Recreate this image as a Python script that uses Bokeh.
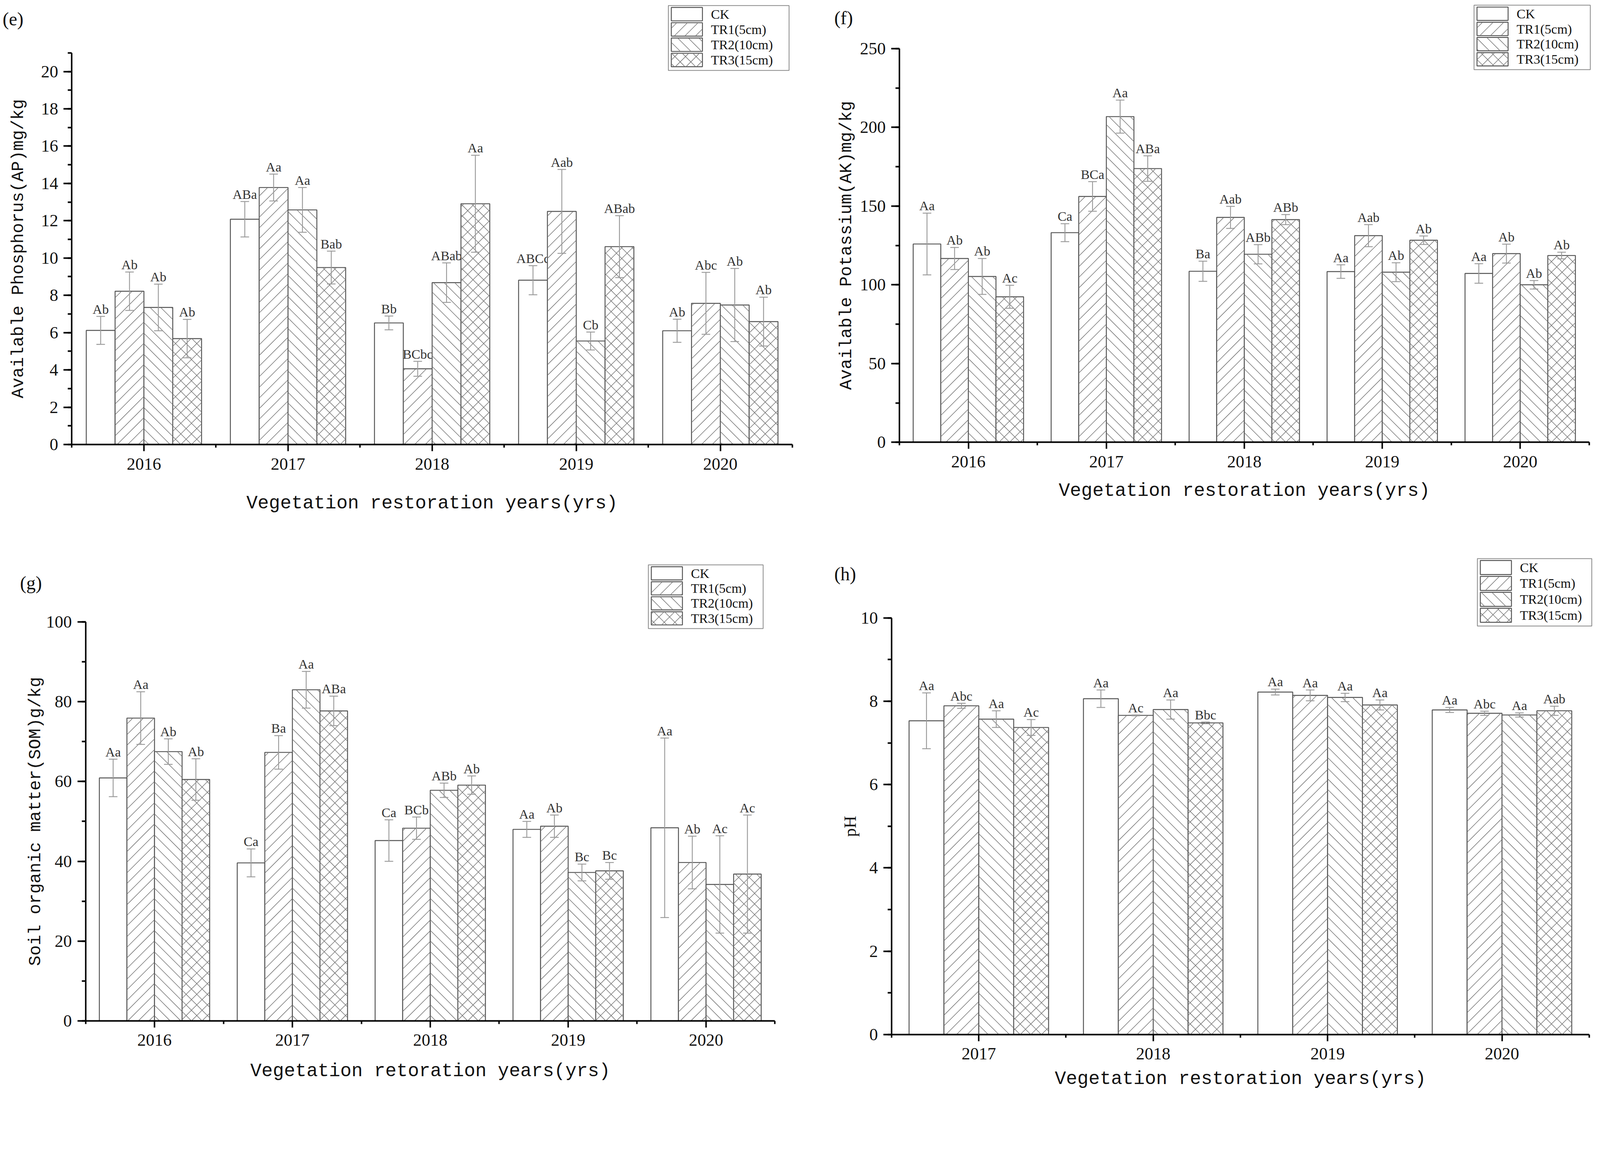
import math
from bokeh.plotting import figure
from bokeh.models import (Range1d, SingleIntervalTicker, FixedTicker, Whisker, TeeHead,
                          ColumnDataSource, Label)
from bokeh.layouts import column, row
from bokeh.core.properties import value
from bokeh.embed import file_html
from bokeh.resources import INLINE

# ---------------- data ----------------
series_names = ["CK", "TR1(5cm)", "TR2(10cm)", "TR3(15cm)"]

years_e = ["2016", "2017", "2018", "2019", "2020"]
ap_ck = [6.12, 12.08, 6.52, 8.81, 6.10]
ap_ck_err = [0.75, 0.95, 0.37, 0.78, 0.62]
ap_ck_lab = ["Ab", "ABa", "Bb", "ABCc", "Ab"]
ap_tr1 = [8.22, 13.78, 4.06, 12.50, 7.57]
ap_tr1_err = [1.03, 0.72, 0.40, 2.25, 1.66]
ap_tr1_lab = ["Ab", "Aa", "BCbc", "Aab", "Abc"]
ap_tr2 = [7.35, 12.58, 8.68, 5.55, 7.48]
ap_tr2_err = [1.25, 1.20, 1.06, 0.48, 1.96]
ap_tr2_lab = ["Ab", "Aa", "ABab", "Cb", "Ab"]
ap_tr3 = [5.68, 9.49, 12.91, 10.61, 6.59]
ap_tr3_err = [1.03, 0.88, 2.60, 1.66, 1.31]
ap_tr3_lab = ["Ab", "Bab", "Aa", "ABab", "Ab"]

years_f = ["2016", "2017", "2018", "2019", "2020"]
ak_ck = [125.9, 133.1, 108.6, 108.4, 107.2]
ak_ck_err = [19.6, 5.7, 6.4, 4.3, 6.2]
ak_ck_lab = ["Aa", "Ca", "Ba", "Aa", "Aa"]
ak_tr1 = [116.7, 156.1, 142.8, 131.2, 119.8]
ak_tr1_err = [7.0, 9.4, 7.0, 7.0, 6.0]
ak_tr1_lab = ["Ab", "BCa", "Aab", "Aab", "Ab"]
ak_tr2 = [105.3, 206.8, 119.4, 108.0, 100.0]
ak_tr2_err = [11.4, 10.5, 6.1, 6.0, 2.7]
ak_tr2_lab = ["Ab", "Aa", "ABb", "Ab", "Ab"]
ak_tr3 = [92.4, 173.8, 141.4, 128.3, 118.6]
ak_tr3_err = [7.3, 8.1, 3.2, 2.7, 2.1]
ak_tr3_lab = ["Ac", "ABa", "ABb", "Ab", "Ab"]

years_g = ["2016", "2017", "2018", "2019", "2020"]
som_ck = [60.9, 39.6, 45.2, 48.0, 48.4]
som_ck_err = [4.7, 3.5, 5.2, 2.0, 22.5]
som_ck_lab = ["Aa", "Ca", "Ca", "Aa", "Aa"]
som_tr1 = [75.9, 67.3, 48.3, 48.8, 39.7]
som_tr1_err = [6.6, 4.2, 2.8, 2.8, 6.6]
som_tr1_lab = ["Aa", "Ba", "BCb", "Ab", "Ab"]
som_tr2 = [67.5, 83.0, 57.8, 37.2, 34.2]
som_tr2_err = [3.2, 4.6, 1.8, 2.1, 12.2]
som_tr2_lab = ["Ab", "Aa", "ABb", "Bc", "Ac"]
som_tr3 = [60.5, 77.7, 59.1, 37.6, 36.8]
som_tr3_err = [5.2, 3.7, 2.3, 2.1, 14.8]
som_tr3_lab = ["Ab", "ABa", "Ab", "Bc", "Ac"]

years_h = ["2017", "2018", "2019", "2020"]
ph_ck = [7.53, 8.06, 8.22, 7.79]
ph_ck_err = [0.67, 0.21, 0.07, 0.06]
ph_ck_lab = ["Aa", "Aa", "Aa", "Aa"]
ph_tr1 = [7.89, 7.66, 8.14, 7.71]
ph_tr1_err = [0.06, 0.01, 0.13, 0.05]
ph_tr1_lab = ["Abc", "Ac", "Aa", "Abc"]
ph_tr2 = [7.57, 7.80, 8.09, 7.67]
ph_tr2_err = [0.20, 0.23, 0.10, 0.05]
ph_tr2_lab = ["Aa", "Aa", "Aa", "Aa"]
ph_tr3 = [7.37, 7.48, 7.91, 7.77]
ph_tr3_err = [0.19, 0.02, 0.12, 0.11]
ph_tr3_lab = ["Ac", "Bbc", "Aa", "Aab"]

# ---------------- styling / layout ----------------
SERIF = "Liberation Serif"
MONO = "Liberation Mono"
S = 1.055            # device px per CSS px observed in the rendering
W = 2040
H1 = 1396
H2 = 1398
OFFSETS = [-0.3, -0.1, 0.1, 0.3]
BAR_W = 0.2
KINDS = [None, "/", "\\", "x"]
HATCH_D = 27.2       # spacing of hatch lines (CSS px)
HCOL = "#777777"
OUTLINE = "#555555"


def hatch_segments(u0, u1, v0, v1, kind, d=HATCH_D):
    """45-degree hatch lines clipped to a screen-space rectangle (u right, v up)."""
    segs = []
    if u1 <= u0 or v1 <= v0 or kind is None:
        return segs
    if kind in ("/", "x"):
        for k in range(math.floor((v0 - u1) / d), math.ceil((v1 - u0) / d) + 1):
            c = k * d
            a, b = max(u0, v0 - c), min(u1, v1 - c)
            if b - a > 0.5:
                segs.append((a, a + c, b, b + c))
    if kind in ("\\", "x"):
        for k in range(math.floor((u0 + v0) / d), math.ceil((u1 + v1) / d) + 1):
            c = k * d
            a, b = max(u0, c - v1), min(u1, c - v0)
            if b - a > 0.5:
                segs.append((a, c - a, b, c - b))
    return segs


def make_panel(tag, years, vals, errs, labs, cfg):
    n = len(years)
    ox, oy, H = cfg["origin"][0], cfg["origin"][1], cfg["H"]
    cx = lambda d: d / S - ox            # reference device px -> figure css px
    cy = lambda d: d / S - oy
    fl, fr, fb = cx(cfg["frame_left"]), cx(cfg["frame_right"]), cy(cfg["y0_px"])
    ppu_y = (fb - cy(cfg["yref_px"])) / cfg["yref"]
    ppu_x = (fr - fl) / n
    xs = 0.5 - fl / ppu_x
    xe = xs + W / ppu_x
    ye = fb / ppu_y
    ys = ye - H / ppu_y
    dx = lambda px: xs + px / ppu_x      # figure px -> data
    dy = lambda py: ye - py / ppu_y
    U = lambda x: (x - xs) * ppu_x       # data -> screen-ish (u right, v up)
    V = lambda y: y * ppu_y

    p = figure(width=W, height=H, output_backend="svg", toolbar_location=None,
               x_range=Range1d(xs, xe), y_range=Range1d(ys, ye), min_border=0,
               min_border_left=0, min_border_right=0, min_border_top=0,
               min_border_bottom=0)
    p.outline_line_color = None
    p.xgrid.visible = False
    p.ygrid.visible = False
    p.background_fill_color = "white"
    p.border_fill_color = "white"

    def add_hatch(rects, kind):
        segs = []
        for (x0, x1, y0, y1) in rects:
            segs += hatch_segments(U(x0) + 1.3, U(x1) - 1.3, V(y0) + 1.3, V(y1) - 1.3, kind)
        if segs:
            p.segment(x0=[xs + s[0] / ppu_x for s in segs], y0=[s[1] / ppu_y for s in segs],
                      x1=[xs + s[2] / ppu_x for s in segs], y1=[s[3] / ppu_y for s in segs],
                      line_color=HCOL, line_width=1.5)

    for k in range(4):
        xcs = [i + 1 + OFFSETS[k] for i in range(n)]
        src = ColumnDataSource(dict(
            x=xcs, top=vals[k],
            upper=[v + e for v, e in zip(vals[k], errs[k])],
            lower=[v - e for v, e in zip(vals[k], errs[k])],
            lab=labs[k]))
        p.vbar(x="x", top="top", bottom=0, width=BAR_W, source=src,
               fill_color="white", line_color=OUTLINE, line_width=2.4)
        add_hatch([(xc - BAR_W / 2, xc + BAR_W / 2, 0, t) for xc, t in zip(xcs, vals[k])],
                  KINDS[k])
        head = dict(size=22, line_color="#9a9a9a", line_width=2.3)
        p.add_layout(Whisker(base="x", upper="upper", lower="lower", source=src,
                             line_color="#9a9a9a", line_width=2.3, level="overlay",
                             upper_head=TeeHead(**head), lower_head=TeeHead(**head)))
        p.text(x="x", y="upper", text="lab", source=src, text_align="center",
               text_baseline="bottom", text_font=value(SERIF),
               text_font_size="34px", text_color="#333333")

    # ---- axes (placed at fixed data locations inside the full-size frame)
    xa = p.xaxis[0]
    xa.fixed_location = 0
    xa.bounds = (0.5, n + 0.5)
    xa.ticker = FixedTicker(ticks=list(range(1, n + 1)),
                            minor_ticks=[i + 0.5 for i in range(n + 1)])
    xa.major_label_overrides = {i + 1: y for i, y in enumerate(years)}
    xa.axis_label = cfg["xlabel"]
    xa.axis_label_text_font = MONO
    xa.axis_label_text_font_size = "48px"
    xa.axis_label_standoff = cfg["xts"]
    xa.major_tick_out = 17
    xa.minor_tick_out = 8
    xa.major_label_standoff = 18

    ya = p.yaxis[0]
    ya.fixed_location = 0.5
    ya.bounds = (0, cfg["axis_top"])
    ya.ticker = SingleIntervalTicker(interval=cfg["interval"], num_minor_ticks=2)
    ya.axis_label = cfg["ylabel"]
    ya.axis_label_text_font = cfg.get("yfont", MONO)
    ya.axis_label_text_font_size = "44px"
    ya.axis_label_standoff = cfg["yts"]
    ya.major_tick_out = 21
    ya.minor_tick_out = 10
    ya.major_label_standoff = 14

    for ax in (xa, ya):
        ax.axis_label_text_font_style = "normal"
        ax.axis_label_text_color = "#111111"
        ax.major_tick_in = 0
        ax.minor_tick_in = 0
        ax.axis_line_width = 3.8
        ax.axis_line_color = "black"
        ax.major_tick_line_width = 3.8
        ax.minor_tick_line_width = 3.8
        ax.major_tick_line_color = "black"
        ax.minor_tick_line_color = "black"
        ax.major_label_text_font = SERIF
        ax.major_label_text_font_size = "44px"
        ax.major_label_text_color = "#111111"

    # ---- legend (drawn from glyphs so the hatches match the bars)
    lx, lt, lw, lh = cfg["legend"]
    L, T = cx(lx), cy(lt)
    Wd, Hd = lw / S, lh / S
    p.quad(left=[dx(L)], right=[dx(L + Wd)], top=[dy(T)], bottom=[dy(T + Hd)],
           fill_color="white", line_color="#8a8a8a", line_width=2)
    pitch = (Hd - 10 / S) / 4
    sw_l, sw_r = L + 8 / S, L + 92 / S
    for k in range(4):
        top_k = T + 5 / S + k * pitch
        bot_k = top_k + pitch - 5 / S
        p.quad(left=[dx(sw_l)], right=[dx(sw_r)], top=[dy(top_k)], bottom=[dy(bot_k)],
               fill_color="white", line_color=OUTLINE, line_width=2.4)
        add_hatch([(dx(sw_l), dx(sw_r), dy(bot_k), dy(top_k))], KINDS[k])
        p.text(x=[dx(L + 115 / S)], y=[dy((top_k + bot_k) / 2)], text=[series_names[k]],
               text_align="left", text_baseline="middle", text_font=value(SERIF),
               text_font_size="34px", text_color="#111111")

    # ---- panel tag
    tx, tb = cfg["tag"]
    p.add_layout(Label(x=dx(cx(tx)), y=dy(cy(tb)), text=tag, text_baseline="alphabetic",
                       text_align="left", text_font=SERIF, text_font_size="48px",
                       text_color="#111111"))
    return p


O_E = (8, 8)
O_F = (8 + W, 8)
O_G = (8, 8 + H1)
O_H = (8 + W, 8 + H1)

pe = make_panel("(e)", years_e,
                [ap_ck, ap_tr1, ap_tr2, ap_tr3],
                [ap_ck_err, ap_tr1_err, ap_tr2_err, ap_tr3_err],
                [ap_ck_lab, ap_tr1_lab, ap_tr2_lab, ap_tr3_lab],
                dict(origin=O_E, H=H1, frame_left=202, frame_right=2148, y0_px=1208,
                     yref_px=201, yref=20, axis_top=21, interval=2,
                     xlabel="Vegetation restoration years(yrs)",
                     ylabel="Available Phosphorus(AP)mg/kg", xts=56, yts=30,
                     legend=(1813, 23, 326, 175), tag=(15, 59)))

pf = make_panel("(f)", years_f,
                [ak_ck, ak_tr1, ak_tr2, ak_tr3],
                [ak_ck_err, ak_tr1_err, ak_tr2_err, ak_tr3_err],
                [ak_ck_lab, ak_tr1_lab, ak_tr2_lab, ak_tr3_lab],
                dict(origin=O_F, H=H1, frame_left=2437, frame_right=4300, y0_px=1202,
                     yref_px=139, yref=250, axis_top=250, interval=50,
                     xlabel="Vegetation restoration years(yrs)",
                     ylabel="Available Potassium(AK)mg/kg", xts=30, yts=7,
                     legend=(3989, 22, 314, 174), tag=(2261, 56)))

pg = make_panel("(g)", years_g,
                [som_ck, som_tr1, som_tr2, som_tr3],
                [som_ck_err, som_tr1_err, som_tr2_err, som_tr3_err],
                [som_ck_lab, som_tr1_lab, som_tr2_lab, som_tr3_lab],
                dict(origin=O_G, H=H2, frame_left=239, frame_right=2101, y0_px=2764,
                     yref_px=1687, yref=100, axis_top=100, interval=20,
                     xlabel="Vegetation retoration years(yrs)",
                     ylabel="Soil organic matter(SOM)g/kg", xts=34, yts=0,
                     legend=(1759, 1533, 310, 172), tag=(62, 1581)))

ph = make_panel("(h)", years_h,
                [ph_ck, ph_tr1, ph_tr2, ph_tr3],
                [ph_ck_err, ph_tr1_err, ph_tr2_err, ph_tr3_err],
                [ph_ck_lab, ph_tr1_lab, ph_tr2_lab, ph_tr3_lab],
                dict(origin=O_H, H=H2, frame_left=2416, frame_right=4300, y0_px=2801,
                     yref_px=1676, yref=10, axis_top=10, interval=2,
                     xlabel="Vegetation restoration years(yrs)",
                     ylabel="pH", yfont=SERIF, xts=19, yts=0,
                     legend=(3998, 1516, 309, 182), tag=(2261, 1557)))

layout = column(row(pe, pf), row(pg, ph))
open("out.html", "w").write(file_html(layout, INLINE))
